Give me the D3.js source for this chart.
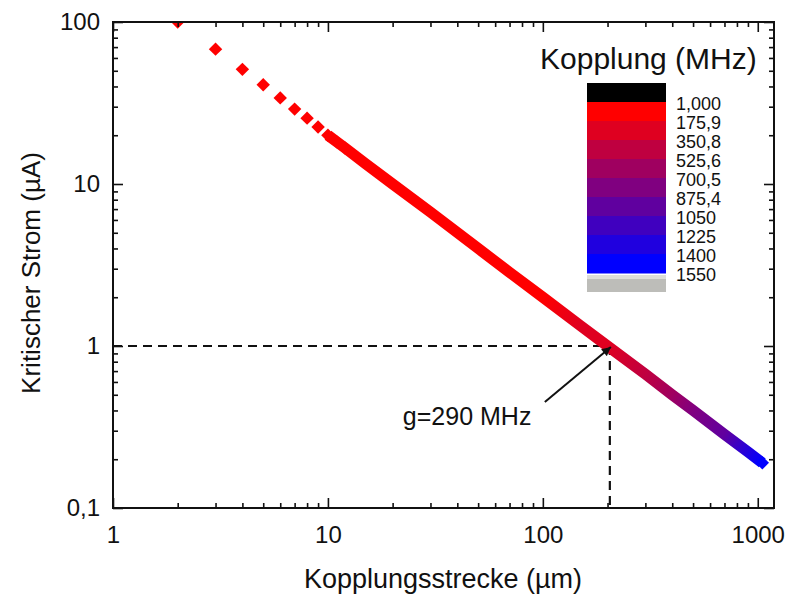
<!DOCTYPE html>
<html>
<head>
<meta charset="utf-8">
<script src="https://cdn.jsdelivr.net/npm/d3@7"></script>
<style>
  body { margin: 0; background: #fff; }
  text { font-family: 'Liberation Sans', Arial, sans-serif; fill: #111; }
</style>
</head>
<body>
<div id="chart"></div>
<script>
// Data

var lengths = [2, 3, 4, 5, 6, 7, 8, 9, 10, 11, 12, 15, 20, 30, 50, 70, 100, 150, 200, 300, 400, 500, 700, 900, 1050]
var currents = [100, 68, 51, 41, 34, 29, 25.5, 22.5, 20, 18.2, 16.7, 13.3, 10, 6.7, 4, 2.85, 2, 1.33, 1, 0.67, 0.5, 0.4, 0.285, 0.222, 0.19]
var couplings = [3, 4, 6, 7, 9, 10, 12, 13, 15, 16, 17, 22, 29, 44, 73, 102, 145, 218, 290, 435, 580, 725, 1015, 1305, 1520]

var legendLevels = [1, 175.9, 350.8, 525.6, 700.5, 875.4, 1050, 1225, 1400, 1550]
var legendLabels = ['1,000', '175,9', '350,8', '525,6', '700,5', '875,4', '1050', '1225', '1400', '1550']

var xTicks = [1, 10, 100, 1000]
var xTickLabels = ['1', '10', '100', '1000']
var yTicks = [0.1, 1, 10, 100]
var yTickLabels = ['0,1', '1', '10', '100']

var marker = { length: 205, current: 1, label: 'g=290 MHz' }

// Set up margin/height/width

var margin = { top: 22, left: 113, right: 14, bottom: 89 }
var width = 788 - margin.left - margin.right
var height = 597 - margin.top - margin.bottom

var svg = d3.select('#chart')
  .append('svg')
  .attr('width', 788)
  .attr('height', 597)

var g = svg.append('g')
  .attr('transform', 'translate(' + margin.left + ',' + margin.top + ')')

// Scales

var xPositionScale = d3.scaleLog().domain([1, 1190]).range([0, width])
var yPositionScale = d3.scaleLog().domain([0.1, 100]).range([height, 0])

// 9 bands red -> blue, black below, grey above
var bandColors = d3.range(9).map(i => d3.interpolateRgb('#ff0000', '#0000ff')(i / 8))
var colorScale = d3.scaleThreshold()
  .domain(legendLevels)
  .range(['#000000'].concat(bandColors).concat(['#bdbdb9']))

// minor ticks for log axes
function minors(domain) {
  var out = []
  for (var p = Math.floor(Math.log10(domain[0])); p <= Math.ceil(Math.log10(domain[1])); p++) {
    for (var k = 2; k <= 9; k++) {
      var v = k * Math.pow(10, p)
      if (v > domain[0] && v < domain[1]) out.push(v)
    }
  }
  return out
}

var xMinor = minors(xPositionScale.domain())
var yMinor = minors(yPositionScale.domain())

// Clip

svg.append('defs')
  .append('clipPath')
  .attr('id', 'plot-clip')
  .append('rect')
  .attr('width', width)
  .attr('height', height)

// Dashed guide lines

var mx = xPositionScale(marker.length)
var my = yPositionScale(marker.current)

g.append('line')
  .attr('x1', 0).attr('x2', mx)
  .attr('y1', my).attr('y2', my)
  .attr('stroke', '#111').attr('stroke-width', 2.2)
  .attr('stroke-dasharray', '9,6')

g.append('line')
  .attr('x1', mx).attr('x2', mx)
  .attr('y1', my).attr('y2', height)
  .attr('stroke', '#111').attr('stroke-width', 2.2)
  .attr('stroke-dasharray', '9,6')

// Data

var points = lengths.map((d, i) => ({ x: d, y: currents[i], c: couplings[i] }))
var dense = points.filter(d => d.x >= 10)

var plot = g.append('g').attr('clip-path', 'url(#plot-clip)')

// gradient along the dense part
var first = dense[0]
var last = dense[dense.length - 1]
var x1 = xPositionScale(first.x), y1 = yPositionScale(first.y)
var x2 = xPositionScale(last.x), y2 = yPositionScale(last.y)
var len2 = (x2 - x1) * (x2 - x1) + (y2 - y1) * (y2 - y1)

var grad = svg.select('defs')
  .append('linearGradient')
  .attr('id', 'band-grad')
  .attr('gradientUnits', 'userSpaceOnUse')
  .attr('x1', x1).attr('y1', y1)
  .attr('x2', x2).attr('y2', y2)

grad.selectAll('stop')
  .data(dense)
  .enter()
  .append('stop')
  .attr('offset', d => {
    var px = xPositionScale(d.x) - x1
    var py = yPositionScale(d.y) - y1
    return Math.max(0, Math.min(1, (px * (x2 - x1) + py * (y2 - y1)) / len2))
  })
  .attr('stop-color', d => colorScale(d.c))

var line = d3.line()
  .x(d => xPositionScale(d.x))
  .y(d => yPositionScale(d.y))

plot.append('path')
  .datum(dense)
  .attr('d', line)
  .attr('fill', 'none')
  .attr('stroke', 'url(#band-grad)')
  .attr('stroke-width', 11)

var diamond = d3.symbol().type(d3.symbolSquare).size(90)

plot.selectAll('.pt')
  .data(points.filter(d => d.x <= 12 || d === last))
  .enter()
  .append('path')
  .attr('class', 'pt')
  .attr('d', diamond)
  .attr('transform', d => 'translate(' + xPositionScale(d.x) + ',' + yPositionScale(d.y) + ') rotate(45)')
  .attr('fill', d => colorScale(d.c))

// Axes (ticks inside)

function styleAxis(sel) {
  sel.select('.domain').remove()
  sel.selectAll('line').attr('stroke', '#111').attr('stroke-width', 1.6)
  sel.selectAll('text').attr('font-size', 24).attr('fill', '#111')
    .attr('font-family', "'Liberation Sans', Arial, sans-serif")
}

g.append('g')
  .attr('transform', 'translate(0,' + height + ')')
  .call(d3.axisBottom(xPositionScale).tickValues(xTicks)
    .tickFormat((d, i) => xTickLabels[i]).tickSize(-10).tickPadding(18))
  .call(styleAxis)

g.append('g')
  .attr('transform', 'translate(0,' + height + ')')
  .call(d3.axisBottom(xPositionScale).tickValues(xMinor).tickFormat('').tickSize(-5))
  .call(styleAxis)

g.append('g')
  .call(d3.axisTop(xPositionScale).tickValues(xTicks).tickFormat('').tickSize(-10))
  .call(styleAxis)

g.append('g')
  .call(d3.axisTop(xPositionScale).tickValues(xMinor).tickFormat('').tickSize(-5))
  .call(styleAxis)

g.append('g')
  .call(d3.axisLeft(yPositionScale).tickValues(yTicks)
    .tickFormat((d, i) => yTickLabels[i]).tickSize(-10).tickPadding(13))
  .call(styleAxis)

g.append('g')
  .call(d3.axisLeft(yPositionScale).tickValues(yMinor).tickFormat('').tickSize(-5))
  .call(styleAxis)

g.append('g')
  .attr('transform', 'translate(' + width + ',0)')
  .call(d3.axisRight(yPositionScale).tickValues(yTicks).tickFormat('').tickSize(-10))
  .call(styleAxis)

g.append('g')
  .attr('transform', 'translate(' + width + ',0)')
  .call(d3.axisRight(yPositionScale).tickValues(yMinor).tickFormat('').tickSize(-5))
  .call(styleAxis)

// Frame
g.append('rect')
  .attr('width', width)
  .attr('height', height)
  .attr('fill', 'none')
  .attr('stroke', '#111')
  .attr('stroke-width', 2)

// Axis titles

svg.append('text')
  .attr('x', margin.left + 330)
  .attr('y', 588)
  .attr('text-anchor', 'middle')
  .attr('font-size', 27)
  .text('Kopplungsstrecke (µm)')

svg.append('text')
  .attr('transform', 'translate(40,273) rotate(-90)')
  .attr('text-anchor', 'middle')
  .attr('font-size', 26)
  .text('Kritischer Strom (µA)')

// Annotation with arrow

svg.select('defs')
  .append('marker')
  .attr('id', 'arrow')
  .attr('viewBox', '0 0 10 10')
  .attr('refX', 10).attr('refY', 5)
  .attr('markerWidth', 11).attr('markerHeight', 9)
  .attr('markerUnits', 'userSpaceOnUse')
  .attr('orient', 'auto')
  .append('path')
  .attr('d', 'M0,0 L10,5 L0,10 z')
  .attr('fill', '#111')

g.append('line')
  .attr('x1', mx - 65).attr('y1', my + 56)
  .attr('x2', mx + 1).attr('y2', my + 1)
  .attr('stroke', '#111')
  .attr('stroke-width', 2)
  .attr('marker-end', 'url(#arrow)')

g.append('text')
  .attr('x', mx - 207)
  .attr('y', my + 79)
  .attr('font-size', 25)
  .text(marker.label)

// Legend

var legend = svg.append('g').attr('transform', 'translate(587,0)')
var legendY = d3.scaleLinear().domain([0, 9]).range([102, 273])
var boxW = 79

legend.append('text')
  .attr('x', -47)
  .attr('y', 69)
  .attr('font-size', 30)
  .text('Kopplung (MHz)')

legend.append('rect')
  .attr('y', 83).attr('width', boxW).attr('height', 102 - 83)
  .attr('fill', colorScale(0))

legend.selectAll('.band')
  .data(bandColors)
  .enter()
  .append('rect')
  .attr('class', 'band')
  .attr('y', (d, i) => legendY(i))
  .attr('width', boxW)
  .attr('height', legendY(1) - legendY(0) + 0.5)
  .attr('fill', d => d)

legend.append('rect')
  .attr('y', 275).attr('width', boxW).attr('height', 4)
  .attr('fill', '#dcdcd8')

legend.append('rect')
  .attr('y', 279).attr('width', boxW).attr('height', 13)
  .attr('fill', colorScale(2000))

legend.selectAll('.lab')
  .data(legendLabels)
  .enter()
  .append('text')
  .attr('class', 'lab')
  .attr('x', boxW + 10)
  .attr('y', (d, i) => legendY(i) + 2)
  .attr('dy', '0.36em')
  .attr('font-size', 18)
  .attr('transform', 'scale(1,1)')
  .text(d => d)
</script>
</body>
</html>
